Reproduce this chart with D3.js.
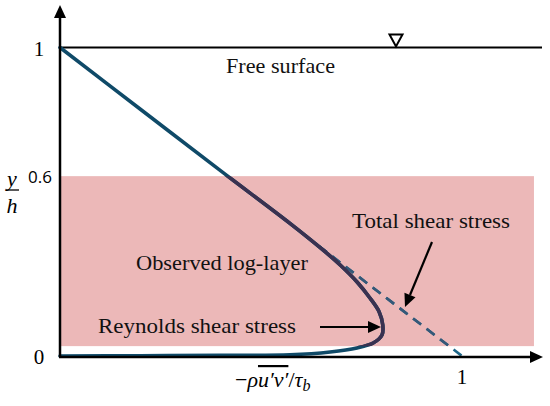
<!DOCTYPE html>
<html><head><meta charset="utf-8">
<script src="https://cdn.jsdelivr.net/npm/d3@7"></script>
</head><body style="margin:0;padding:0;background:#fff;">
<script>
// Data (dimensionless)
const reynoldsX = [0, 0.2, 0.4, 0.572, 0.672, 0.739, 0.779, 0.801, 0.803, 0.794, 0.771, 0.739, 0.697, 0.654, 0.572, 0.4, 0.2, 0];
const reynoldsY = [0, 0.001, 0.002, 0.004, 0.013, 0.026, 0.042, 0.068, 0.100, 0.143, 0.188, 0.240, 0.295, 0.344, 0.43, 0.6, 0.8, 1];
const totalDashX = [0.61, 1];
const totalDashY = [0.39, 0];
const logLayerY = [0.032, 0.583];
const logLayerX = [0, 1.179];
const surfaceY = 1;
const yTickValues = [0, 0.583, 1];
const yTickLabels = ["0", "0.6", "1"];
const xTickValues = [1];
const xTickLabels = ["1"];

const W = 550, H = 406;
const x = d3.scaleLinear().domain([0, 1]).range([60, 462]);
const y = d3.scaleLinear().domain([0, 1]).range([356, 47.5]);
const SERIF = '"Liberation Serif"';
const SANS = '"Open Sans"';

const svg = d3.select("body").append("svg").attr("width", W).attr("height", H)
  .style("display", "block").style("font-family", SERIF);

// band
svg.append("defs").append("clipPath").attr("id", "bandclip")
  .append("rect")
  .attr("x", x(logLayerX[0])).attr("y", y(logLayerY[1]))
  .attr("width", x(logLayerX[1]) - x(logLayerX[0]))
  .attr("height", y(logLayerY[0]) - y(logLayerY[1]));

svg.append("rect")
  .attr("x", x(logLayerX[0])).attr("y", y(logLayerY[1]))
  .attr("width", x(logLayerX[1]) - x(logLayerX[0]))
  .attr("height", y(logLayerY[0]) - y(logLayerY[1]))
  .attr("fill", "#ecb8b8");

// free surface line
svg.append("line").attr("x1", x(0)).attr("x2", 542).attr("y1", y(surfaceY)).attr("y2", y(surfaceY))
  .attr("stroke", "#000").attr("stroke-width", 2);
const tx = 396, ty = y(surfaceY) - 1;
svg.append("path").attr("d", `M${tx-6.5},${ty-12} L${tx+6.5},${ty-12} L${tx},${ty} Z`)
  .attr("fill", "#fff").attr("stroke", "#000").attr("stroke-width", 2);

// lines
const reData = reynoldsX.map((v, i) => [v, reynoldsY[i]]);
const dashData = totalDashX.map((v, i) => [v, totalDashY[i]]);
const lineGen = d3.line().x(d => x(d[0])).y(d => y(d[1])).curve(d3.curveCatmullRom.alpha(0.5));
const straight = d3.line().x(d => x(d[0])).y(d => y(d[1]));

svg.append("path").attr("d", straight(dashData)).attr("fill", "none")
  .attr("stroke", "#1d6688").attr("stroke-width", 2.6).attr("stroke-dasharray", "10,7");
svg.append("path").attr("d", straight(dashData)).attr("fill", "none").attr("clip-path", "url(#bandclip)")
  .attr("stroke", "#355878").attr("stroke-width", 2.6).attr("stroke-dasharray", "10,7");

svg.append("path").attr("d", lineGen(reData)).attr("fill", "none")
  .attr("stroke", "#0f4a68").attr("stroke-width", 3.6).attr("stroke-linecap", "round");
svg.append("path").attr("d", lineGen(reData)).attr("fill", "none").attr("clip-path", "url(#bandclip)")
  .attr("stroke", "#3a3150").attr("stroke-width", 3.6).attr("stroke-linecap", "round");

// axes
svg.append("line").attr("x1", x(0)).attr("x2", x(0)).attr("y1", y(0) + 1).attr("y2", 16)
  .attr("stroke", "#000").attr("stroke-width", 2.5);
svg.append("path").attr("d", `M${x(0)},5 L${x(0)-6},18 L${x(0)+6},18 Z`).attr("fill", "#000");
svg.append("line").attr("x1", x(0) - 1).attr("x2", 532).attr("y1", y(0) + 1).attr("y2", y(0) + 1)
  .attr("stroke", "#000").attr("stroke-width", 2.5);
svg.append("path").attr("d", `M543,${y(0)+1} L530,${y(0)-5} L530,${y(0)+7} Z`).attr("fill", "#000");

// tick labels
svg.selectAll("text.yt").data(yTickValues).enter().append("text")
  .attr("class", "yt")
  .attr("x", (d, i) => i === 1 ? 40 : 39)
  .attr("y", (d, i) => y(d) + (i === 1 ? 7 : 8))
  .attr("text-anchor", "middle")
  .style("font-family", (d, i) => i === 1 ? SANS : SERIF)
  .style("font-size", (d, i) => i === 1 ? "17px" : "21px")
  .attr("fill", "#000")
  .text((d, i) => yTickLabels[i]);
svg.selectAll("text.xt").data(xTickValues).enter().append("text")
  .attr("class", "xt")
  .attr("x", d => x(d)).attr("y", 384)
  .attr("text-anchor", "middle")
  .style("font-family", SERIF).style("font-size", "21px")
  .text((d, i) => xTickLabels[i]);

// y/h label
svg.append("text").attr("x", 12).attr("y", 186).attr("text-anchor", "middle")
  .style("font-family", SERIF).style("font-style", "italic").style("font-size", "22px").text("y");
svg.append("line").attr("x1", 6).attr("x2", 19).attr("y1", 190).attr("y2", 190).attr("stroke", "#000").attr("stroke-width", 1.3);
svg.append("text").attr("x", 12).attr("y", 213).attr("text-anchor", "middle")
  .style("font-family", SERIF).style("font-style", "italic").style("font-size", "22px").text("h");

// x label: −ρ u'v' / τ_b  (overline via text-decoration)
const xl = svg.append("text").attr("x", 235).attr("y", 387)
  .style("font-family", SERIF).style("font-size", "22px").style("font-style", "italic");
xl.append("tspan").style("font-style", "normal").text("−");
xl.append("tspan").text("ρ");
xl.append("tspan").style("text-decoration", "overline").text("u′v′");
xl.append("tspan").style("font-style", "normal").text("/");
xl.append("tspan").text("τ");
xl.append("tspan").style("font-size", "16px").attr("dy", 4).text("b");

// annotation texts
const labels = [
  {t: "Free surface", x: 226, y: 73, w: 109},
  {t: "Observed log-layer", x: 136, y: 270, w: 172},
  {t: "Reynolds shear stress", x: 98, y: 333, w: 198},
  {t: "Total shear stress", x: 352, y: 228, w: 158}
];
svg.selectAll("text.lab").data(labels).enter().append("text")
  .attr("class", "lab").attr("x", d => d.x).attr("y", d => d.y)
  .style("font-family", SERIF).style("font-size", "22px").attr("fill", "#111")
  .attr("textLength", d => d.w).attr("lengthAdjust", "spacingAndGlyphs")
  .text(d => d.t);

// arrows
function arrow(x1, y1, x2, y2) {
  const ang = Math.atan2(y2 - y1, x2 - x1);
  const L = 13, hw = 6;
  const bx = x2 - L * Math.cos(ang), by = y2 - L * Math.sin(ang);
  svg.append("line").attr("x1", x1).attr("y1", y1).attr("x2", bx).attr("y2", by)
    .attr("stroke", "#000").attr("stroke-width", 2.2);
  const px = -Math.sin(ang) * hw, py = Math.cos(ang) * hw;
  svg.append("path").attr("d", `M${x2},${y2} L${bx+px},${by+py} L${bx-px},${by-py} Z`).attr("fill", "#000");
}
arrow(432, 242, 405, 307);
arrow(320, 327, 381, 327);
</script>
</body></html>
